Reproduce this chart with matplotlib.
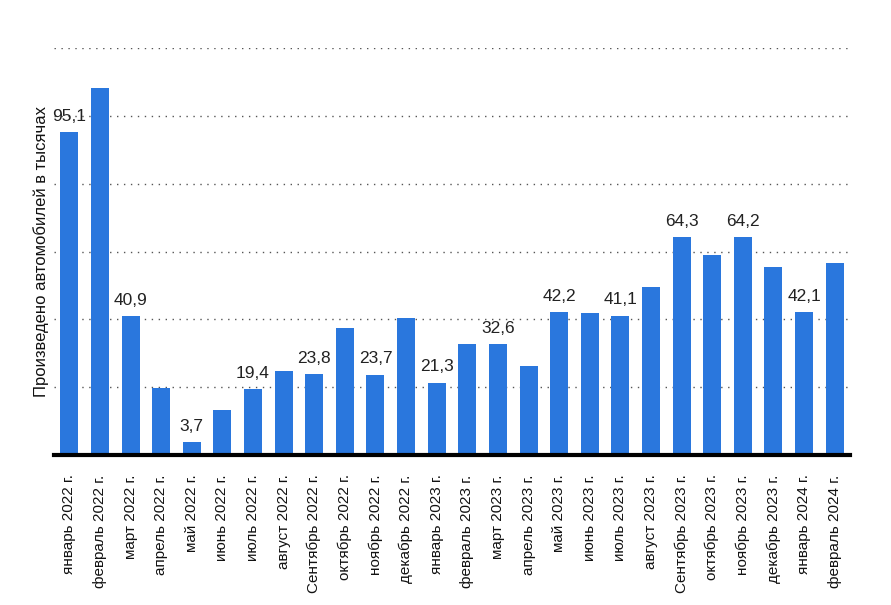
import matplotlib
matplotlib.use("Agg")
import matplotlib.pyplot as plt
import numpy as np

plt.rcParams['font.family'] = ['Liberation Sans', 'DejaVu Sans']

# Data
months = [
    "январь 2022 г.", "февраль 2022 г.", "март 2022 г.", "апрель 2022 г.",
    "май 2022 г.", "июнь 2022 г.", "июль 2022 г.", "август 2022 г.",
    "Сентябрь 2022 г.", "октябрь 2022 г.", "ноябрь 2022 г.", "декабрь 2022 г.",
    "январь 2023 г.", "февраль 2023 г.", "март 2023 г.", "апрель 2023 г.",
    "май 2023 г.", "июнь 2023 г.", "июль 2023 г.", "август 2023 г.",
    "Сентябрь 2023 г.", "октябрь 2023 г.", "ноябрь 2023 г.", "декабрь 2023 г.",
    "январь 2024 г.", "февраль 2024 г.",
]
values = [
    95.1, 108.1, 40.9, 19.8, 3.7, 13.3, 19.4, 24.7, 23.8, 37.3, 23.7, 40.3,
    21.3, 32.6, 32.6, 26.3, 42.2, 41.9, 41.1, 49.6, 64.3, 59.0, 64.2, 55.4,
    42.1, 56.6,
]
# only every second bar carries a value label
labeled = [True, False] * 13

bar_color = "#2a77dd"

fig = plt.figure(figsize=(8.91, 6.05), dpi=100)
ax = fig.add_axes([54 / 891, 150 / 605, 796 / 891, 407 / 605])

x = np.arange(len(values))
bars = ax.bar(x, values, width=0.59, color=bar_color, zorder=3)

# value labels
for i, (b, v) in enumerate(zip(bars, values)):
    if labeled[i]:
        ax.annotate(f"{v:.1f}".replace(".", ","),
                    (b.get_x() + b.get_width() / 2, v),
                    xytext=(0, 6), textcoords="offset points",
                    ha="center", va="bottom", fontsize=12.5, color="#222222")

ax.set_xlim(-0.5, len(values) - 0.5)
ax.set_ylim(0, 120)
ax.set_yticks([0, 20, 40, 60, 80, 100, 120])
ax.set_yticklabels([])
ax.tick_params(axis="y", length=0)
ax.grid(axis="y", linestyle=(0, (1, 4)), linewidth=1, color="#555555", zorder=0)

ax.set_xticks(x)
ax.set_xticklabels(months, rotation=90, fontsize=11, color="#111111")
ax.tick_params(axis="x", length=0, pad=14)

for side in ["top", "right", "left"]:
    ax.spines[side].set_visible(False)
ax.spines["bottom"].set_linewidth(3)
ax.spines["bottom"].set_color("black")
ax.spines["bottom"].set_zorder(4)

ax.set_ylabel("Произведено автомобилей в тысячах", fontsize=12, color="#111111")
ax.yaxis.set_label_coords(-0.006, 0.5)

fig.savefig("out.png", dpi=100)
